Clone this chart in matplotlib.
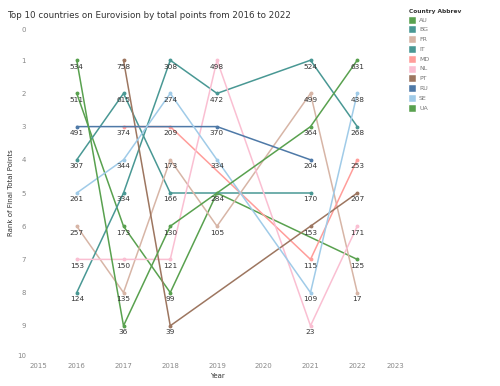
import numpy as np
import matplotlib
matplotlib.use("Agg")
import matplotlib.pyplot as plt
from matplotlib.patches import Rectangle

nan = np.nan
YEARS = [2016, 2017, 2018, 2019, 2021, 2022]
COUNTRIES = ["AU", "BG", "FR", "IT", "MD", "NL", "PT", "RU", "SE", "UA"]

AU_RANK = [2, 6, 8, 5, nan, 7]
AU_PTS = [511, 173, 99, 284, nan, 125]
BG_RANK = [4, 2, 5, nan, 5, nan]
BG_PTS = [307, 615, 166, nan, 170, nan]
FR_RANK = [6, 8, 4, 6, 2, 8]
FR_PTS = [257, 135, 173, 105, 499, 17]
IT_RANK = [8, 5, 1, 2, 1, 3]
IT_PTS = [124, 334, 308, 472, 524, 268]
MD_RANK = [nan, 3, 3, nan, 7, 4]
MD_PTS = [nan, 374, 209, nan, 115, 253]
NL_RANK = [7, 7, 7, 1, 9, 6]
NL_PTS = [153, 150, 121, 498, 23, 171]
PT_RANK = [nan, 1, 9, nan, 6, 5]
PT_PTS = [nan, 758, 39, nan, 153, 207]
RU_RANK = [3, nan, nan, 3, 4, nan]
RU_PTS = [491, nan, nan, 370, 204, nan]
SE_RANK = [5, 4, 2, 4, 8, 2]
SE_PTS = [261, 344, 274, 334, 109, 438]
UA_RANK = [1, 9, 6, nan, 3, 1]
UA_PTS = [534, 36, 130, nan, 364, 631]

COLORS = ["#59a14f", "#499894", "#d7b5a6", "#499894", "#ff9d9a",
          "#fabfd2", "#9d7660", "#4e79a7", "#a0cbe8", "#59a14f"]

series = {
    "AU": (AU_RANK, AU_PTS), "BG": (BG_RANK, BG_PTS), "FR": (FR_RANK, FR_PTS),
    "IT": (IT_RANK, IT_PTS), "MD": (MD_RANK, MD_PTS), "NL": (NL_RANK, NL_PTS),
    "PT": (PT_RANK, PT_PTS), "RU": (RU_RANK, RU_PTS), "SE": (SE_RANK, SE_PTS),
    "UA": (UA_RANK, UA_PTS),
}

fig = plt.figure(figsize=(5, 3.86), dpi=100)
ax = fig.add_axes([0.06, 0.070, 0.748, 0.860])

for c, col in zip(COUNTRIES, COLORS):
    r, p = series[c]
    r = np.array(r, float)
    p = np.array(p, float)
    yr = np.array(YEARS)
    m = ~np.isnan(r)
    ax.plot(yr[m], r[m], color=col, lw=1.1, marker="o", ms=1.8, zorder=2)
    for x, y, v in zip(yr[m], r[m], p[m]):
        ax.annotate(f"{int(v)}", (x, y), xytext=(0, -2.5),
                    textcoords="offset points", ha="center", va="top",
                    fontsize=5.3, color="#333333", zorder=3)

ax.set_xlim(2015, 2023)
ax.set_ylim(10, 0)
ax.set_xticks(range(2015, 2024))
ax.set_yticks(range(0, 11))
ax.tick_params(length=0, labelsize=5, colors="#888888", pad=3)
for s in ax.spines.values():
    s.set_visible(False)
xl = ax.get_xticklabels()
xl[0].set_ha("left")
xl[-1].set_ha("right")
yl = ax.get_yticklabels()
yl[0].set_va("top")
yl[-1].set_va("bottom")
ax.set_xlabel("Year", fontsize=5, color="#333333", labelpad=3)
ax.set_ylabel("Rank of Final Total Points", fontsize=5, color="#333333",
              labelpad=2)

fig.text(7 / 500, 1 - 15 / 386, "Top 10 countries on Eurovision by total points from 2016 to 2022",
         fontsize=6.3, color="#333333", ha="left", va="center")

fig.text(409 / 500, 1 - 11 / 386, "Country Abbrev", fontsize=4.2,
         color="#333333", ha="left", va="center", fontweight="semibold")
for i, (c, col) in enumerate(zip(COUNTRIES, COLORS)):
    yc = 20 + i * 9.8
    fig.patches.append(Rectangle((409 / 500, 1 - (yc + 3.5) / 386), 7 / 500, 7 / 386,
                                 transform=fig.transFigure, facecolor=col,
                                 edgecolor="white", lw=0.3))
    fig.text(419 / 500, 1 - yc / 386, c, fontsize=4.5, color="#777777",
             ha="left", va="center")

fig.savefig("out.png", dpi=100)
